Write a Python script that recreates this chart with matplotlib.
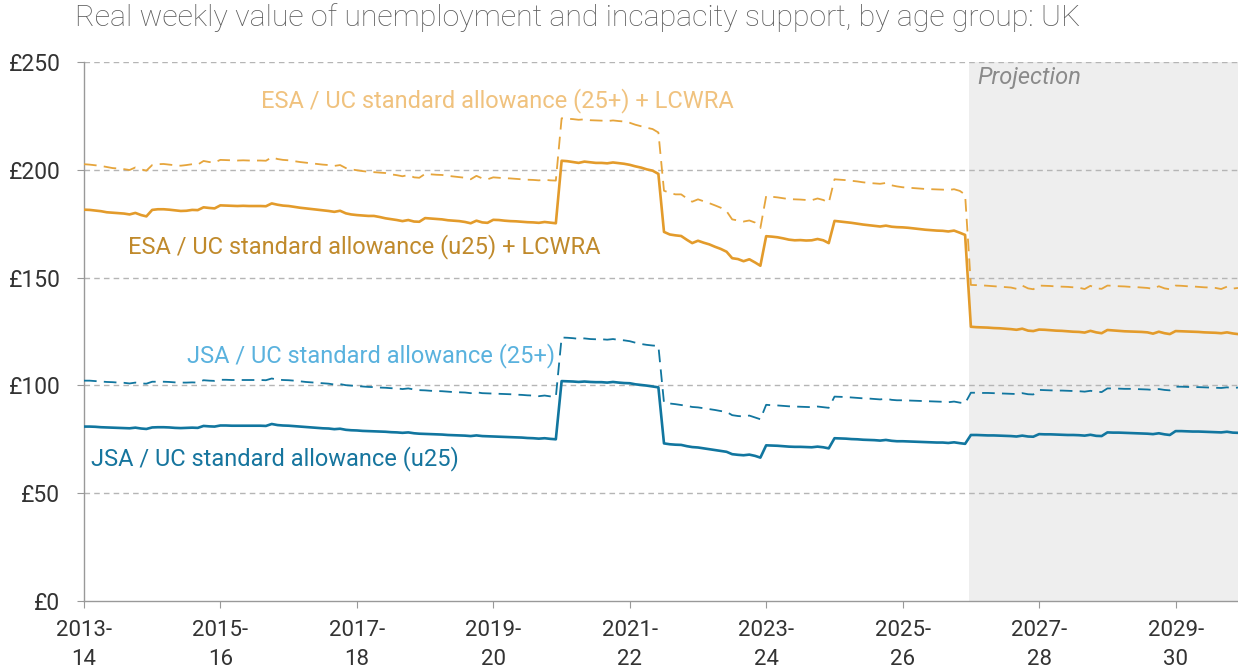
import pandas as pd
import numpy as np
import matplotlib
matplotlib.use('Agg')
import matplotlib.pyplot as plt

# monthly real weekly values (£), April 2013 - March 2030, one row per financial year
esa_u25 = [
    181.5, 181.4, 181.1, 180.8, 180.3, 180.1, 179.9, 179.7, 179.3, 180.0, 179.0, 178.4,
    181.4, 181.7, 181.7, 181.5, 181.2, 180.9, 181.0, 181.4, 181.3, 182.6, 182.3, 182.1,
    183.5, 183.4, 183.3, 183.2, 183.3, 183.2, 183.2, 183.2, 183.1, 184.4, 183.8, 183.4,
    183.2, 182.8, 182.4, 182.1, 181.8, 181.5, 181.2, 180.9, 180.5, 181.0, 179.8, 179.3,
    179.0, 178.8, 178.6, 178.6, 178.1, 177.5, 177.1, 176.7, 176.2, 176.7, 176.0, 175.9,
    177.6, 177.4, 177.2, 177.0, 176.6, 176.4, 176.2, 175.8, 175.2, 176.4, 175.6, 175.4,
    176.8, 176.7, 176.4, 176.2, 176.1, 175.9, 175.7, 175.6, 175.4, 175.8, 175.5, 175.2,
    204.2, 204.0, 203.6, 203.2, 203.8, 203.5, 203.2, 203.2, 203.0, 203.4, 203.1, 202.8,
    202.3, 201.6, 201.0, 200.2, 199.6, 198.1, 171.2, 170.0, 169.6, 169.3, 167.5, 166.0,
    167.1, 166.2, 165.4, 164.3, 163.3, 162.0, 159.0, 158.6, 157.6, 158.5, 157.0, 155.5,
    169.2, 169.0, 168.7, 168.2, 167.6, 167.3, 167.4, 167.2, 167.3, 167.9, 167.3, 166.0,
    176.3, 176.0, 175.7, 175.4, 175.0, 174.6, 174.3, 174.0, 173.7, 174.1, 173.6, 173.4,
    173.3, 173.1, 172.8, 172.5, 172.2, 172.0, 171.8, 171.7, 171.4, 171.8, 170.8, 169.8,
    127.2, 127.0, 126.9, 126.8, 126.6, 126.5, 126.3, 126.1, 125.8, 126.3, 125.4, 125.2,
    125.9, 125.8, 125.6, 125.4, 125.3, 125.1, 124.9, 124.8, 124.5, 125.3, 124.6, 124.2,
    125.7, 125.5, 125.3, 125.1, 125.0, 124.9, 124.8, 124.6, 124.0, 124.9, 124.2, 123.8,
    125.2, 125.1, 125.0, 124.9, 124.8, 124.6, 124.5, 124.4, 124.2, 124.6, 124.1, 123.8,
]

esa_25 = [
    202.6, 202.4, 202.1, 201.8, 201.3, 200.8, 200.6, 200.3, 199.9, 201.1, 200.2, 199.6,
    202.2, 202.6, 202.7, 202.4, 202.1, 201.9, 202.2, 202.6, 202.4, 204.1, 203.6, 203.4,
    204.6, 204.5, 204.4, 204.3, 204.4, 204.3, 204.3, 204.3, 204.2, 205.8, 205.0, 204.6,
    204.4, 204.0, 203.6, 203.3, 203.0, 202.7, 202.4, 202.2, 201.8, 202.2, 200.8, 200.2,
    199.8, 199.4, 199.1, 198.9, 198.7, 198.5, 197.9, 197.5, 197.0, 197.6, 196.5, 196.3,
    198.1, 197.9, 197.7, 197.6, 197.2, 196.9, 196.6, 196.3, 195.6, 197.2, 196.0, 195.6,
    196.5, 196.3, 196.1, 196.0, 195.8, 195.6, 195.4, 195.3, 195.1, 195.4, 195.1, 195.0,
    223.9, 223.7, 223.5, 223.2, 223.4, 223.0, 222.9, 222.8, 222.6, 222.9, 222.6, 222.4,
    221.8, 220.9, 220.2, 219.5, 218.9, 217.3, 190.3, 189.3, 188.6, 188.6, 186.7, 185.2,
    186.3, 185.4, 184.5, 183.5, 182.4, 180.8, 177.0, 176.5, 176.0, 176.5, 175.5, 173.0,
    187.8, 187.5, 187.2, 186.8, 186.4, 186.3, 186.2, 186.0, 185.9, 186.7, 186.0, 184.7,
    195.6, 195.4, 195.2, 194.9, 194.6, 194.2, 193.9, 193.7, 193.5, 193.9, 192.8, 192.3,
    191.9, 191.7, 191.5, 191.3, 191.1, 191.0, 190.9, 190.8, 190.6, 191.0, 190.2, 188.5,
    146.6, 146.5, 146.4, 146.2, 146.0, 145.8, 145.6, 145.4, 144.8, 146.3, 145.0, 144.6,
    146.3, 146.2, 146.1, 145.9, 145.8, 145.7, 145.5, 145.3, 144.7, 146.2, 145.0, 144.8,
    146.3, 146.2, 146.0, 145.9, 145.7, 145.6, 145.4, 145.2, 144.8, 146.0, 145.0, 144.6,
    146.3, 146.2, 146.0, 145.9, 145.7, 145.5, 145.4, 145.2, 144.7, 145.8, 144.9, 145.2,
]

jsa_u25 = [
    80.9, 80.9, 80.8, 80.6, 80.5, 80.4, 80.3, 80.2, 80.1, 80.4, 80.0, 79.8,
    80.5, 80.6, 80.6, 80.5, 80.3, 80.2, 80.3, 80.4, 80.3, 81.2, 81.0, 80.9,
    81.4, 81.4, 81.3, 81.3, 81.3, 81.3, 81.3, 81.3, 81.2, 82.1, 81.6, 81.4,
    81.3, 81.1, 80.9, 80.7, 80.5, 80.3, 80.1, 80.0, 79.7, 79.9, 79.4, 79.2,
    79.1, 78.9, 78.8, 78.7, 78.6, 78.5, 78.3, 78.2, 78.0, 78.2, 77.8, 77.6,
    77.5, 77.4, 77.3, 77.2, 77.0, 76.9, 76.8, 76.7, 76.5, 76.8, 76.5, 76.4,
    76.3, 76.2, 76.1, 76.0, 75.9, 75.8, 75.6, 75.5, 75.3, 75.5, 75.2, 75.0,
    102.0, 101.9, 101.8, 101.6, 101.8, 101.6, 101.5, 101.5, 101.3, 101.6, 101.3, 101.1,
    101.0, 100.5, 100.2, 99.9, 99.5, 99.1, 73.1, 72.7, 72.5, 72.4, 71.8, 71.4,
    71.2, 70.8, 70.4, 70.0, 69.6, 69.2, 68.1, 67.8, 67.6, 67.9, 67.3, 66.5,
    72.2, 72.1, 72.0, 71.8, 71.6, 71.5, 71.5, 71.4, 71.3, 71.6, 71.3, 70.8,
    75.5, 75.4, 75.3, 75.1, 75.0, 74.8, 74.7, 74.6, 74.4, 74.7, 74.3, 74.1,
    74.1, 74.0, 73.9, 73.8, 73.7, 73.6, 73.5, 73.5, 73.3, 73.6, 73.2, 72.9,
    77.0, 77.0, 76.9, 76.8, 76.8, 76.7, 76.6, 76.5, 76.3, 76.7, 76.3, 76.2,
    77.4, 77.3, 77.3, 77.2, 77.1, 77.0, 77.0, 76.9, 76.7, 77.1, 76.6, 76.5,
    78.2, 78.1, 78.1, 78.0, 77.9, 77.8, 77.7, 77.6, 77.4, 77.8, 77.3, 77.0,
    78.8, 78.8, 78.7, 78.6, 78.6, 78.5, 78.4, 78.3, 78.2, 78.5, 78.1, 78.0,
]

jsa_25 = [
    102.2, 102.2, 102.0, 101.8, 101.6, 101.5, 101.3, 101.2, 100.9, 101.3, 100.9, 100.8,
    101.7, 101.7, 101.7, 101.6, 101.4, 101.3, 101.3, 101.4, 101.3, 102.4, 102.2, 102.1,
    102.6, 102.6, 102.5, 102.5, 102.5, 102.5, 102.5, 102.5, 102.4, 103.2, 102.7, 102.5,
    102.4, 102.2, 101.9, 101.6, 101.4, 101.2, 101.0, 100.8, 100.4, 100.6, 100.1, 99.9,
    99.7, 99.5, 99.3, 99.2, 99.0, 98.9, 98.7, 98.6, 98.3, 98.6, 98.1, 97.8,
    97.7, 97.5, 97.4, 97.3, 97.1, 96.9, 96.8, 96.7, 96.4, 96.8, 96.4, 96.3,
    96.2, 96.1, 96.0, 95.9, 95.7, 95.6, 95.4, 95.3, 95.0, 95.3, 94.9, 94.6,
    122.2, 122.1, 121.9, 121.6, 121.8, 121.5, 121.4, 121.4, 121.2, 121.5, 121.1, 120.9,
    120.5, 119.8, 119.2, 118.8, 118.5, 118.3, 92.0, 91.6, 91.3, 90.9, 90.5, 90.0,
    89.8, 89.4, 89.0, 88.6, 88.1, 87.7, 86.2, 85.8, 85.6, 86.0, 85.1, 84.3,
    91.0, 90.8, 90.7, 90.5, 90.3, 90.2, 90.1, 90.0, 89.9, 90.2, 89.9, 89.6,
    94.8, 94.7, 94.6, 94.4, 94.2, 94.0, 93.9, 93.7, 93.5, 93.8, 93.3, 93.1,
    93.1, 93.0, 92.9, 92.8, 92.7, 92.6, 92.5, 92.4, 92.2, 92.5, 92.0, 91.7,
    96.6, 96.6, 96.5, 96.5, 96.4, 96.3, 96.2, 96.1, 96.0, 96.4, 95.9, 95.8,
    97.9, 97.8, 97.7, 97.6, 97.6, 97.5, 97.4, 97.3, 97.1, 97.5, 97.1, 96.9,
    98.6, 98.6, 98.5, 98.4, 98.4, 98.3, 98.2, 98.1, 97.9, 98.3, 97.9, 97.7,
    99.4, 99.4, 99.3, 99.2, 99.2, 99.1, 99.0, 98.9, 98.8, 99.1, 98.8, 99.0,
]

months = pd.date_range('2013-04-01', periods=len(esa_u25), freq='MS')
tick_years = list(range(2013, 2030, 2))
tick_labels = [f"{y}-\n{str(y + 1)[-2:]}" for y in tick_years]
y_ticks = [0, 50, 100, 150, 200, 250]
projection_start = pd.Timestamp('2026-03-24')

plt.rcParams['font.family'] = ['Roboto', 'DejaVu Sans']

fig = plt.figure(figsize=(12.38, 6.70), dpi=100)
ax = fig.add_axes([84 / 1238, 69 / 670, 1 - 84 / 1238, 539 / 670])

orange = '#e39b2b'
blue = '#11769f'

ax.axvspan(projection_start, months[-1], color='#eeeeee', lw=0, zorder=0)

for v in y_ticks[1:]:
    ax.axhline(v, color='#b5b5b5', lw=1.0, ls=(0, (4, 3)), zorder=1)

ax.plot(months, esa_25, color='#e6a53c', lw=1.3, ls=(0, (7, 4)), zorder=3)
ax.plot(months, esa_u25, color=orange, lw=1.9, zorder=4)
ax.plot(months, jsa_25, color=blue, lw=1.3, ls=(0, (7, 4)), zorder=3)
ax.plot(months, jsa_u25, color=blue, lw=1.9, zorder=4)

ax.set_xlim(months[0], months[-1])
ax.set_ylim(0, 250)

ax.set_xticks([pd.Timestamp(f'{y}-04-01') for y in tick_years])
ax.set_xticklabels(tick_labels, fontsize=16, color='#333333', linespacing=1.45)
ax.set_yticks(y_ticks)
ax.set_yticklabels([f"£{v}" for v in y_ticks], fontsize=16.5, color='#333333')
ax.tick_params(axis='x', length=5, width=0.8, color='#999999', pad=9)
ax.tick_params(axis='y', length=5, width=0.8, color='#999999', pad=12)

for s in ['top', 'right']:
    ax.spines[s].set_visible(False)
for s in ['left', 'bottom']:
    ax.spines[s].set_color('#999999')
    ax.spines[s].set_linewidth(1.0)

lbl = dict(fontsize=17, va='center', ha='left')
ax.text(pd.Timestamp('2015-11-05'), 232, 'ESA / UC standard allowance (25+) + LCWRA', color='#f0c27e', **lbl)
ax.text(pd.Timestamp('2013-11-20'), 164.5, 'ESA / UC standard allowance (u25) + LCWRA', color='#c08a2c', **lbl)
ax.text(pd.Timestamp('2014-10-05'), 114, 'JSA / UC standard allowance (25+)', color='#5ab2de', **lbl)
ax.text(pd.Timestamp('2013-05-10'), 66, 'JSA / UC standard allowance (u25)', color='#16759e', **lbl)
ax.text(pd.Timestamp('2026-05-05'), 243, 'Projection', color='#8a8a8a', style='italic', **lbl)

fig.text(75 / 1238, 1 - 18 / 670, 'Real weekly value of unemployment and incapacity support, by age group: UK',
         fontsize=21.8, color='#5a5a5a', va='center', ha='left', fontweight='light')

fig.savefig('out.png', dpi=100)
